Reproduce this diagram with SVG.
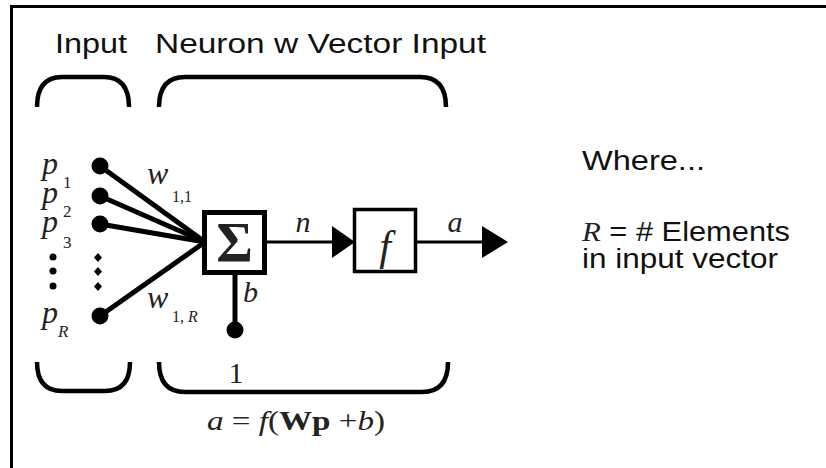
<svg xmlns="http://www.w3.org/2000/svg" width="826" height="468" viewBox="0 0 826 468">
<style>
.sans{font-family:"Liberation Sans",Arial,sans-serif;fill:#111}
.ser{font-family:"Liberation Serif","Times New Roman",serif;fill:#222}
.it{font-style:italic}
.brace{fill:none;stroke:#000;stroke-width:4.5}
.wire{stroke:#000;stroke-width:5;fill:none}
.thin{stroke:#000;stroke-width:3;fill:none}
</style>
<rect width="826" height="468" fill="#fff"/>
<g id="frame">
<line x1="10" y1="6.5" x2="826" y2="6.5" stroke="#000" stroke-width="3"/>
<line x1="11.5" y1="5" x2="11.5" y2="468" stroke="#000" stroke-width="3"/>
</g>
<g id="titles">
<text class="sans" x="55" y="53" font-size="27" textLength="72" lengthAdjust="spacingAndGlyphs">Input</text>
<text class="sans" x="155" y="53" font-size="27" textLength="331" lengthAdjust="spacingAndGlyphs">Neuron w Vector Input</text>
</g>
<g id="braces">
<path class="brace" d="M37,107 Q37,77 62,77 H104 Q129,77 129,107"/>
<path class="brace" d="M159,107 Q159,77 185,77 H420 Q446,77 446,107"/>
<path class="brace" d="M37,362 Q37,391 62,391 H105 Q130,391 130,362"/>
<path class="brace" d="M159,362 Q159,392 185,392 H422 Q448,392 448,362"/>
</g>
<g id="connectors">
<line class="wire" x1="100" y1="166" x2="205" y2="242"/>
<line class="wire" x1="100" y1="196" x2="205" y2="242"/>
<line class="wire" x1="100" y1="224" x2="205" y2="242"/>
<line class="wire" x1="100" y1="316" x2="205" y2="242"/>
<line class="wire" x1="235" y1="274" x2="235" y2="328"/>
<line class="thin" x1="267" y1="242" x2="334" y2="242"/>
<polygon points="332,226 332,258 355,242" fill="#000"/>
<line class="thin" x1="417" y1="242" x2="484" y2="242"/>
<polygon points="482,226 482,258 508,242" fill="#000"/>
</g>
<g id="inputs">
<circle cx="100" cy="166" r="8.5"/>
<circle cx="100" cy="196" r="8.5"/>
<circle cx="100" cy="224" r="8.5"/>
<circle cx="100" cy="316" r="8.5"/>
<circle cx="53" cy="257" r="3.5"/>
<circle cx="53" cy="271" r="3.5"/>
<circle cx="53" cy="286" r="3.5"/>
<polygon points="98,253 102,257.5 98,262 94,257.5"/>
<polygon points="98,267 102,271.5 98,276 94,271.5"/>
<polygon points="98,282 102,286.5 98,291 94,286.5"/>
<text class="ser it" x="42" y="174" font-size="32">p</text>
<text class="ser" x="63" y="188" font-size="17">1</text>
<text class="ser it" x="42" y="203" font-size="32">p</text>
<text class="ser" x="63" y="217" font-size="17">2</text>
<text class="ser it" x="42" y="232" font-size="32">p</text>
<text class="ser" x="63" y="248" font-size="17">3</text>
<text class="ser it" x="42" y="323" font-size="32">p</text>
<text class="ser it" x="58" y="337" font-size="17">R</text>
<text class="ser it" x="147" y="184" font-size="32">w</text>
<text class="ser" x="172" y="202" font-size="16">1,1</text>
<text class="ser it" x="147" y="308" font-size="32">w</text>
<text class="ser" x="172" y="322" font-size="16">1, <tspan class="it">R</tspan></text>
</g>
<g id="sum">
<rect x="204.5" y="212.5" width="60" height="60" fill="#fff" stroke="#000" stroke-width="5"/>
<text class="ser" x="234.5" y="262" font-size="56" font-weight="bold" text-anchor="middle" fill="#000">Σ</text>
<text class="ser it" x="243" y="302" font-size="30">b</text>
</g>
<g id="bias">
<circle cx="235" cy="330" r="8.5"/>
<text class="ser" x="236" y="383" font-size="30" text-anchor="middle">1</text>
</g>
<g id="transfer">
<rect x="354.5" y="209.5" width="61" height="62" fill="#fff" stroke="#000" stroke-width="3.5"/>
<text class="ser it" x="385" y="260" font-size="42" text-anchor="middle">f</text>
</g>
<g id="labels">
<text class="ser it" x="303" y="232" font-size="30" text-anchor="middle">n</text>
<text class="ser it" x="455" y="232" font-size="30" text-anchor="middle">a</text>
<text class="ser" x="207" y="430" font-size="28" textLength="178" lengthAdjust="spacingAndGlyphs"><tspan class="it">a</tspan> = <tspan class="it">f</tspan>(<tspan font-weight="bold">Wp</tspan> +<tspan class="it">b</tspan>)</text>
</g>
<g id="legend">
<text class="sans" x="582" y="170" font-size="27" textLength="123" lengthAdjust="spacingAndGlyphs">Where...</text>
<text class="sans" x="582" y="241" font-size="27" textLength="208" lengthAdjust="spacingAndGlyphs"><tspan class="ser it">R</tspan> = # Elements</text>
<text class="sans" x="582" y="268" font-size="27" textLength="196" lengthAdjust="spacingAndGlyphs">in input vector</text>
</g>
</svg>
